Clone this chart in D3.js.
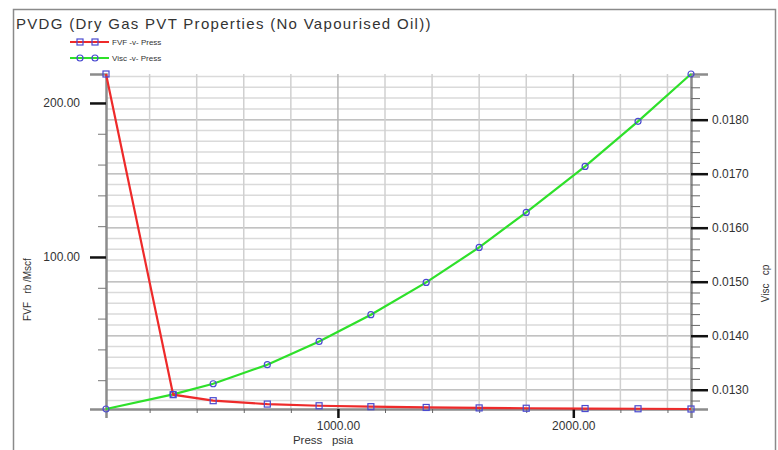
<!DOCTYPE html>
<html>
<head>
<meta charset="utf-8">
<script src="https://cdn.jsdelivr.net/npm/d3@7"></script>
<style>
  body { margin: 0; background: #fff; }
  text { font-family: "Liberation Sans", Arial, sans-serif; fill: #333; }
</style>
</head>
<body>
<div id="chart"></div>
<script>
// PVDG table: pressure (psia), gas FVF (rb/Mscf), gas viscosity (cp)
var pressure = [14.7, 300, 470, 700, 920, 1140, 1375, 1600, 1800, 2050, 2275, 2500];
var fvf = [218.8, 10.6, 6.7, 4.5, 3.4, 2.8, 2.3, 2.0, 1.8, 1.6, 1.45, 1.3];
var visc = [0.012643, 0.012913, 0.013111, 0.013463, 0.013894, 0.014389,
            0.014987, 0.015635, 0.016283, 0.017135, 0.017969, 0.018846];

var pressTicks = [1000, 2000];
var pressMinorTicks = [200, 400, 600, 800, 1200, 1400, 1600, 1800, 2200, 2400];
var fvfTicks = [100, 200];
var fvfMinorTicks = [20, 40, 60, 80, 120, 140, 160, 180];
var viscTicks = [0.013, 0.014, 0.015, 0.016, 0.017, 0.018];
var viscMinorTicks = d3.range(64, 95).map(i => i * 0.0002);

var svgWidth = 778;
var svgHeight = 450;

var margin = { top: 74, right: 87, bottom: 41, left: 106 };
var width = svgWidth - margin.left - margin.right;
var height = svgHeight - margin.top - margin.bottom;

var svg = d3.select("#chart")
  .append("svg")
  .attr("width", svgWidth)
  .attr("height", svgHeight);

// outer frame
svg.append("rect")
  .attr("x", 13.5).attr("y", 9.5)
  .attr("width", 762).attr("height", 460)
  .attr("fill", "none")
  .attr("stroke", "#8a8a8a")
  .attr("stroke-width", 1.5);

svg.append("text")
  .attr("x", 16).attr("y", 29)
  .style("font-size", "15px")
  .style("letter-spacing", "1.3px")
  .attr("fill", "#3a3a3a")
  .text("PVDG (Dry Gas PVT Properties (No Vapourised Oil))");

var chartGroup = svg.append("g")
  .attr("transform", `translate(${margin.left}, ${margin.top})`);

// scales
var xScale = d3.scaleLinear()
  .domain([d3.min(pressure), d3.max(pressure)])
  .range([0, width]);

var yLeft = d3.scaleLinear()
  .domain([d3.min(fvf), d3.max(fvf)])
  .range([height, 0]);

var yRight = d3.scaleLinear()
  .domain([d3.min(visc), d3.max(visc)])
  .range([height, 0]);

// grid
chartGroup.selectAll(".hgrid")
  .data(viscMinorTicks)
  .enter()
  .append("line")
  .attr("x1", 0).attr("x2", width)
  .attr("y1", d => yRight(d)).attr("y2", d => yRight(d))
  .attr("stroke", "#dadada")
  .attr("stroke-width", 1.5);

chartGroup.selectAll(".hgridmaj")
  .data(viscTicks)
  .enter()
  .append("line")
  .attr("x1", 0).attr("x2", width)
  .attr("y1", d => yRight(d)).attr("y2", d => yRight(d))
  .attr("stroke", "#c2c2c2")
  .attr("stroke-width", 1.5);

chartGroup.selectAll(".vgrid")
  .data(pressMinorTicks)
  .enter()
  .append("line")
  .attr("x1", d => xScale(d)).attr("x2", d => xScale(d))
  .attr("y1", 0).attr("y2", height)
  .attr("stroke", "#d0d0d0")
  .attr("stroke-width", 1.5);

chartGroup.selectAll(".vgridmaj")
  .data(pressTicks)
  .enter()
  .append("line")
  .attr("x1", d => xScale(d)).attr("x2", d => xScale(d))
  .attr("y1", 0).attr("y2", height)
  .attr("stroke", "#b5b5b5")
  .attr("stroke-width", 1.5);

// x axis
var bottomAxis = d3.axisBottom(xScale)
  .tickValues(pressTicks)
  .tickFormat(d3.format(".2f"))
  .tickSize(9)
  .tickPadding(3);

var xAxisG = chartGroup.append("g")
  .attr("transform", `translate(0, ${height})`)
  .call(bottomAxis);

chartGroup.append("g")
  .attr("transform", `translate(0, ${height})`)
  .call(d3.axisBottom(xScale).tickValues(pressMinorTicks).tickSize(4).tickFormat(""))
  .call(g => g.select(".domain").remove())
  .selectAll("line").attr("stroke", "#666");

// left axis
var leftAxis = d3.axisLeft(yLeft)
  .tickValues(fvfTicks)
  .tickFormat(d3.format(".2f"))
  .tickSize(16)
  .tickPadding(10);

var leftG = chartGroup.append("g").call(leftAxis);

chartGroup.append("g")
  .call(d3.axisLeft(yLeft).tickValues(fvfMinorTicks).tickSize(8).tickFormat(""))
  .call(g => g.select(".domain").remove())
  .selectAll("line").attr("stroke", "#777");

// right axis
var rightAxis = d3.axisRight(yRight)
  .tickValues(viscTicks)
  .tickFormat(d3.format(".4f"))
  .tickSize(17)
  .tickPadding(4);

var rightG = chartGroup.append("g")
  .attr("transform", `translate(${width}, 0)`)
  .call(rightAxis);

chartGroup.append("g")
  .attr("transform", `translate(${width}, 0)`)
  .call(d3.axisRight(yRight).tickValues(viscMinorTicks.filter(d => viscTicks.every(t => Math.abs(t - d) > 1e-6))).tickSize(9).tickFormat(""))
  .call(g => g.select(".domain").remove())
  .selectAll("line").attr("stroke", "#666");

[xAxisG, leftG, rightG].forEach(function(g) {
  g.select(".domain").attr("stroke", "#8c8c8c").attr("stroke-width", 2.5);
  g.selectAll(".tick line").attr("stroke", "#111").attr("stroke-width", 2.5);
  g.selectAll(".tick text").style("font-size", "12px").attr("fill", "#333")
    .style("font-family", "'Liberation Sans', Arial, sans-serif");
});

// axis titles
chartGroup.append("text")
  .attr("transform", `translate(${-margin.left + 31}, ${height / 2 + 48}) rotate(-90)`)
  .attr("text-anchor", "middle")
  .style("font-size", "10px")
  .attr("xml:space", "preserve")
  .text("FVF   rb /Mscf");

chartGroup.append("text")
  .attr("transform", `translate(${width + 78}, ${height / 2 + 42}) rotate(-90)`)
  .attr("text-anchor", "middle")
  .style("font-size", "10px")
  .attr("xml:space", "preserve")
  .text("Visc   cp");

chartGroup.append("text")
  .attr("x", 323 - margin.left)
  .attr("y", height + 35)
  .attr("text-anchor", "middle")
  .style("font-size", "11.5px")
  .attr("xml:space", "preserve")
  .text("Press   psia");

// lines
var fvfLine = d3.line()
  .x((d, i) => xScale(pressure[i]))
  .y(d => yLeft(d));

var viscLine = d3.line()
  .x((d, i) => xScale(pressure[i]))
  .y(d => yRight(d));

chartGroup.append("path")
  .datum(visc)
  .attr("d", viscLine)
  .attr("fill", "none")
  .attr("stroke", "#2ee02a")
  .attr("stroke-width", 2.2);

chartGroup.append("path")
  .datum(fvf)
  .attr("d", fvfLine)
  .attr("fill", "none")
  .attr("stroke", "#ee2a2a")
  .attr("stroke-width", 2.2);

// markers
chartGroup.selectAll(".fvfpt")
  .data(fvf)
  .enter()
  .append("rect")
  .attr("x", (d, i) => xScale(pressure[i]) - 3)
  .attr("y", d => yLeft(d) - 3)
  .attr("width", 6).attr("height", 6)
  .attr("fill", "none")
  .attr("stroke", "#4a4ad0")
  .attr("stroke-width", 1.2);

chartGroup.selectAll(".viscpt")
  .data(visc)
  .enter()
  .append("circle")
  .attr("cx", (d, i) => xScale(pressure[i]))
  .attr("cy", d => yRight(d))
  .attr("r", 3)
  .attr("fill", "none")
  .attr("stroke", "#4a4ad0")
  .attr("stroke-width", 1.2);

// legend
var legendItems = [
  { label: "FVF -v- Press", color: "#ee2a2a", shape: "square", y: 42 },
  { label: "Visc -v- Press", color: "#2ee02a", shape: "circle", y: 58 }
];

legendItems.forEach(function(item) {
  svg.append("line")
    .attr("x1", 70).attr("x2", 109)
    .attr("y1", item.y).attr("y2", item.y)
    .attr("stroke", item.color)
    .attr("stroke-width", 2);
  [80, 95].forEach(function(cx) {
    if (item.shape === "square") {
      svg.append("rect")
        .attr("x", cx - 3).attr("y", item.y - 3)
        .attr("width", 6).attr("height", 6)
        .attr("fill", "none").attr("stroke", "#4a4ad0").attr("stroke-width", 1.2);
    } else {
      svg.append("circle")
        .attr("cx", cx).attr("cy", item.y).attr("r", 3)
        .attr("fill", "none").attr("stroke", "#4a4ad0").attr("stroke-width", 1.2);
    }
  });
  svg.append("text")
    .attr("x", 112).attr("y", item.y + 3)
    .style("font-size", "8px")
    .text(item.label);
});
</script>
</body>
</html>
